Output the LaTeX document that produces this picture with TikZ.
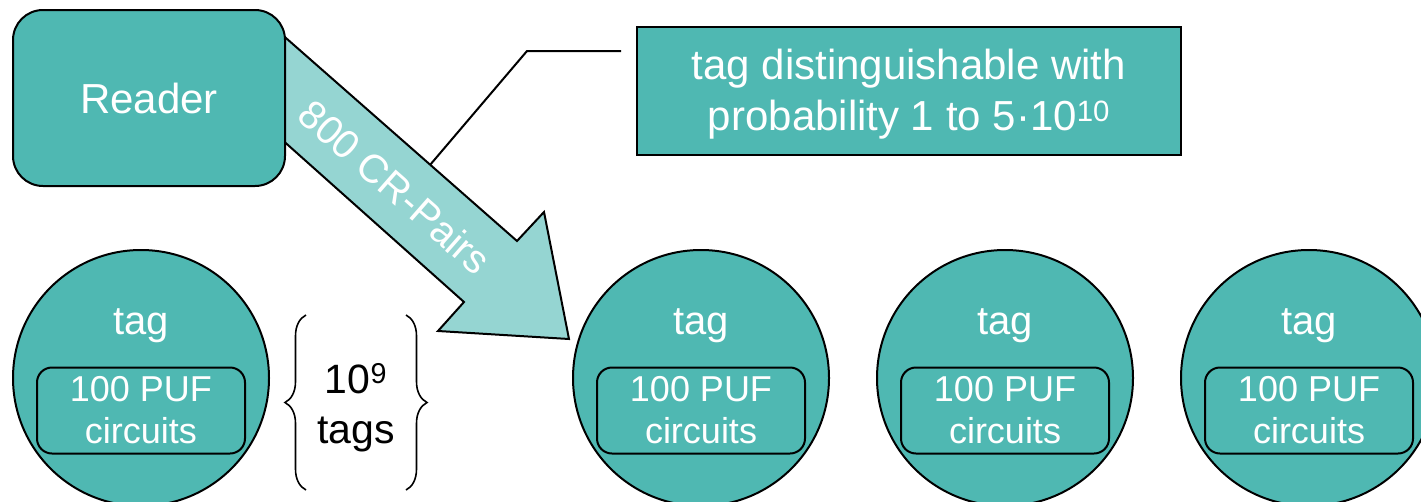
\documentclass[tikz,border=0pt]{standalone}
\usepackage{fontspec}
\setmainfont{Liberation Sans}
\usetikzlibrary{decorations.pathreplacing}
\definecolor{tealmain}{HTML}{4FB8B2}
\definecolor{teallight}{HTML}{95D5D2}
\begin{document}
\begin{tikzpicture}[x=1pt,y=-1pt,line width=2pt,
  box/.style={draw=black,fill=tealmain,text=white,inner sep=0pt},
  bigtxt/.style={font=\fontsize{42}{51}\selectfont},
  tagcircle/.style={circle,draw=black,fill=tealmain,minimum size=256pt,inner sep=0pt},
  taglabel/.style={anchor=base,text=white,font=\fontsize{40}{48}\selectfont},
  pufbox/.style={box,rounded corners=15pt,minimum width=208pt,minimum height=86pt,align=center,font=\fontsize{36}{42}\selectfont},
  bracestyle/.style={decorate,decoration={brace,amplitude=21pt},line width=1.6pt}]
\useasboundingbox (0,0) rectangle (1421,501);
% block arrow (drawn first, Reader covers its tail)
\coordinate (arA) at (270,24);
\coordinate (arB) at (517,241);
\coordinate (arC) at (544,212);
\coordinate (arTip) at (569,339);
\coordinate (arD) at (438,331);
\coordinate (arE) at (464,302);
\coordinate (arF) at (270,129);
\draw[fill=teallight] (arA) -- (arB) -- (arC) -- (arTip) -- (arD) -- (arE) -- (arF) -- cycle;
\node[rotate=-41.3,text=white,font=\fontsize{40}{48}\selectfont] (pairs) at (395,187) {800 CR-Pairs};
% Reader
\node[box,bigtxt,rounded corners=30pt,minimum width=272pt,minimum height=176pt] (reader) at (149,98) {Reader};
% callout
\coordinate (k1) at (621,51);
\coordinate (k2) at (527,51);
\coordinate (k3) at (430,165);
\draw (k1) -- (k2) -- (k3);
\node[box,minimum width=544pt,minimum height=128pt] (callout) at (909,91) {};
\node[bigtxt,text=white,align=center] (callouttxt) at (909,94.5)
  {tag distinguishable with\\probability 1 to 5·10\textsuperscript{10}};
% tags
\foreach \i/\cx in {1/141,2/701,3/1005,4/1309}{
  \node[tagcircle] (t\i) at (\cx,378) {};
  \node[taglabel] (l\i) at (\cx,334) {tag};
  \node[pufbox] (p\i) at (\cx,410.5) {100 PUF\\circuits};
}
% braces
\coordinate (b1) at (306,490);
\coordinate (b2) at (306,315);
\coordinate (b3) at (406,315);
\coordinate (b4) at (406,490);
\draw[bracestyle] (b1) -- (b2);
\draw[bracestyle] (b3) -- (b4);
\node[anchor=base,font=\fontsize{41}{50}\selectfont] (n1) at (356,393) {10\textsuperscript{9}};
\node[anchor=base,font=\fontsize{41}{50}\selectfont] (n2) at (356,443) {tags};
\end{tikzpicture}
\end{document}
